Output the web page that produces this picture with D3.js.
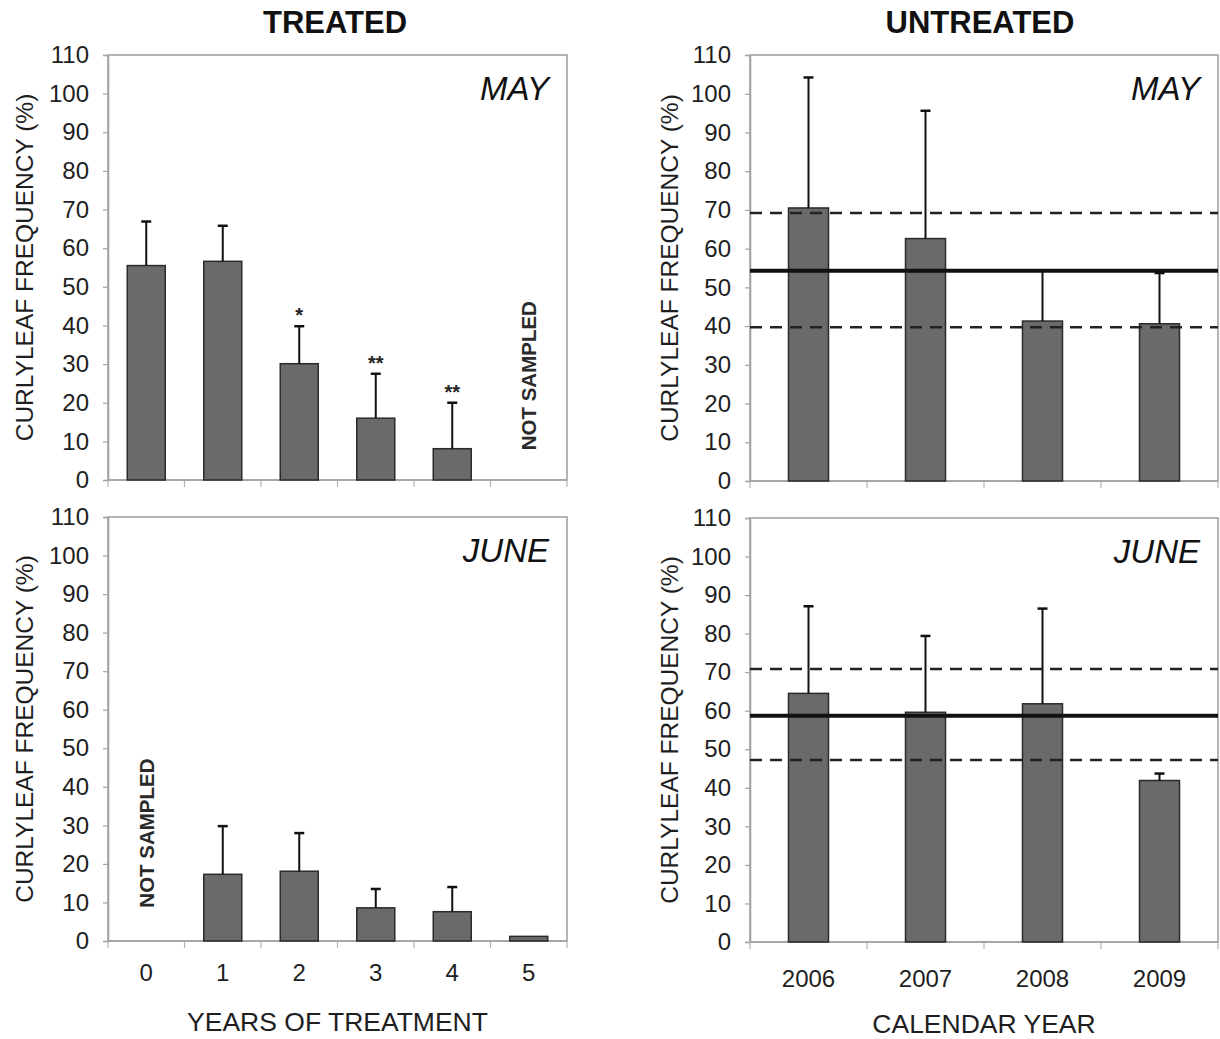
<!DOCTYPE html>
<html><head><meta charset="utf-8">
<script src="https://cdn.jsdelivr.net/npm/d3@7"></script>
<style>body{margin:0;background:#fff}</style></head>
<body><svg id="c" width="1220" height="1039"></svg>
<script>
// ---- data ----
const treatedYears = ["0", "1", "2", "3", "4", "5"];
const treatedMay = [55.5, 56.6, 30.1, 16.0, 8.1, null];
const treatedMayErr = [11.4, 9.2, 9.7, 11.5, 11.9, null];
const treatedMaySig = ["", "", "*", "**", "**", ""];
const treatedJune = [null, 17.3, 18.1, 8.6, 7.6, 1.2];
const treatedJuneErr = [null, 12.5, 9.9, 4.9, 6.4, 0];
const treatedJuneSig = ["", "", "", "", "", ""];

const untreatedYears = ["2006", "2007", "2008", "2009"];
const untreatedMay = [70.5, 62.6, 41.3, 40.6];
const untreatedMayErr = [33.7, 33.0, 13.0, 13.1];
const untreatedMayRef = [54.3, 39.7, 69.2];   // mean, lower, upper
const untreatedJune = [64.5, 59.6, 61.8, 41.9];
const untreatedJuneErr = [22.6, 19.8, 24.7, 1.8];
const untreatedJuneRef = [58.7, 47.2, 70.8];

const yTicks = [0, 10, 20, 30, 40, 50, 60, 70, 80, 90, 100, 110];
const columnTitles = ["TREATED", "UNTREATED"];
const monthLabels = ["MAY", "JUNE"];
const yTitle = "CURLYLEAF FREQUENCY (%)";
const xTitles = ["YEARS OF TREATMENT", "CALENDAR YEAR"];
const notSampled = "NOT SAMPLED";

// ---- drawing ----
const FONT = "'Liberation Sans', Arial, Helvetica, sans-serif";
const svg = d3.select("#c");

function panel(o) {
  const g = svg.append("g");
  const x = d3.scaleBand().domain(o.cats).range([o.x0, o.x1]).padding(0);
  const y = d3.scaleLinear().domain([0, 110]).range([o.y1, o.y0]);
  const bw = o.barW;

  // frame
  g.append("rect").attr("x", o.x0).attr("y", o.y0)
    .attr("width", o.x1 - o.x0).attr("height", o.y1 - o.y0)
    .attr("fill", "none").attr("stroke", "#a3a3a3").attr("stroke-width", 1.6);

  // y axis
  const ya = g.append("g").attr("transform", `translate(${o.x0},0)`)
    .call(d3.axisLeft(y).tickValues(yTicks).tickSize(5).tickPadding(14));
  ya.select(".domain").attr("stroke", "#a3a3a3").attr("stroke-width", 1.6);
  ya.selectAll(".tick line").attr("stroke", "#a3a3a3").attr("stroke-width", 1.2);
  ya.selectAll(".tick text").attr("font-family", FONT).attr("font-size", 24).attr("fill", "#1e1e1e");

  // x axis: ticks at band boundaries
  const bounds = o.cats.map(c => x(c)).concat([o.x1]);
  g.selectAll("line.xt").data(bounds).join("line").attr("class", "xt")
    .attr("x1", d => d).attr("x2", d => d).attr("y1", o.y1).attr("y2", o.y1 + 7)
    .attr("stroke", "#b5b5b5").attr("stroke-width", 1.2);
  g.append("line").attr("x1", o.x0).attr("x2", o.x1).attr("y1", o.y1).attr("y2", o.y1)
    .attr("stroke", "#a3a3a3").attr("stroke-width", 1.6);

  if (o.showX) {
    g.selectAll("text.xl").data(o.cats).join("text").attr("class", "xl")
      .attr("x", d => x(d) + x.bandwidth() / 2).attr("y", o.xLabelY)
      .attr("text-anchor", "middle").attr("font-family", FONT).attr("font-size", 24).attr("fill", "#1e1e1e")
      .text(d => d);
    g.append("text").attr("x", (o.x0 + o.x1) / 2).attr("y", o.xTitleY)
      .attr("text-anchor", "middle").attr("font-family", FONT).attr("font-size", 26.5).attr("fill", "#1e1e1e")
      .text(o.xTitle);
  }

  // y title
  g.append("text").attr("transform", `translate(${o.yTitleX},${(o.y0 + o.y1) / 2}) rotate(-90)`)
    .attr("text-anchor", "middle").attr("dominant-baseline", "central")
    .attr("font-family", FONT).attr("font-size", 24.5).attr("fill", "#1e1e1e").text(yTitle);

  const data = o.cats.map((c, i) => ({ c, v: o.vals[i], e: o.errs[i], s: o.sig ? o.sig[i] : "" }));
  const present = data.filter(d => d.v !== null);

  // bars
  g.selectAll("rect.bar").data(present).join("rect").attr("class", "bar")
    .attr("x", d => x(d.c) + (x.bandwidth() - bw) / 2).attr("width", bw)
    .attr("y", d => y(d.v)).attr("height", d => y(0) - y(d.v))
    .attr("fill", "#6a6a6a").attr("stroke", "#2b2b2b").attr("stroke-width", 1.5);

  // error bars (upper only)
  const eb = present.filter(d => d.e);
  g.selectAll("line.ev").data(eb).join("line").attr("class", "ev")
    .attr("x1", d => x(d.c) + x.bandwidth() / 2).attr("x2", d => x(d.c) + x.bandwidth() / 2)
    .attr("y1", d => y(d.v)).attr("y2", d => y(d.v + d.e))
    .attr("stroke", "#111").attr("stroke-width", 2);
  g.selectAll("line.ec").data(eb).join("line").attr("class", "ec")
    .attr("x1", d => x(d.c) + x.bandwidth() / 2 - 5).attr("x2", d => x(d.c) + x.bandwidth() / 2 + 5)
    .attr("y1", d => y(d.v + d.e)).attr("y2", d => y(d.v + d.e))
    .attr("stroke", "#111").attr("stroke-width", 2.5);

  // significance
  g.selectAll("text.sig").data(present.filter(d => d.s)).join("text").attr("class", "sig")
    .attr("x", d => x(d.c) + x.bandwidth() / 2).attr("y", d => y(d.v + d.e) - 4)
    .attr("text-anchor", "middle").attr("font-family", FONT).attr("font-weight", "bold")
    .attr("font-size", 20).attr("fill", "#222").text(d => d.s);

  // not sampled
  data.filter(d => d.v === null).forEach(d => {
    g.append("text")
      .attr("transform", `translate(${x(d.c) + x.bandwidth() / 2},${y(o.nsY)}) rotate(-90)`)
      .attr("text-anchor", "middle").attr("dominant-baseline", "central")
      .attr("font-family", FONT).attr("font-weight", "bold").attr("font-size", 20.5).attr("fill", "#2a2a2a")
      .text(notSampled);
  });

  // reference lines
  if (o.ref) {
    const [m, lo, hi] = o.ref;
    [lo, hi].forEach(v => {
      g.append("line").attr("x1", o.x0).attr("x2", o.x1).attr("y1", y(v)).attr("y2", y(v))
        .attr("stroke", "#222").attr("stroke-width", 2.5).attr("stroke-dasharray", "12,8");
    });
    g.append("line").attr("x1", o.x0).attr("x2", o.x1).attr("y1", y(m)).attr("y2", y(m))
      .attr("stroke", "#111").attr("stroke-width", 4);
  }

  // month label
  g.append("text").attr("x", o.x1 - 18).attr("y", o.monthY)
    .attr("text-anchor", "end").attr("font-family", FONT).attr("font-style", "italic")
    .attr("font-size", 33).attr("fill", "#111").text(o.month);
}

// column titles
svg.append("text").attr("x", 335).attr("y", 33).attr("text-anchor", "middle")
  .attr("font-family", FONT).attr("font-weight", "bold").attr("font-size", 31).attr("fill", "#111").text(columnTitles[0]);
svg.append("text").attr("x", 980).attr("y", 33).attr("text-anchor", "middle")
  .attr("font-family", FONT).attr("font-weight", "bold").attr("font-size", 31).attr("fill", "#111").text(columnTitles[1]);

panel({ x0: 108, x1: 567, y0: 55, y1: 480, cats: treatedYears, vals: treatedMay, errs: treatedMayErr,
  sig: treatedMaySig, barW: 38, showX: false, yTitleX: 24, nsY: 27, month: monthLabels[0], monthY: 100 });
panel({ x0: 750, x1: 1218, y0: 55, y1: 481, cats: untreatedYears, vals: untreatedMay, errs: untreatedMayErr,
  barW: 40, showX: false, yTitleX: 669, ref: untreatedMayRef, month: monthLabels[0], monthY: 100 });
panel({ x0: 108, x1: 567, y0: 517, y1: 941, cats: treatedYears, vals: treatedJune, errs: treatedJuneErr,
  sig: treatedJuneSig, barW: 38, showX: true, xLabelY: 981, xTitle: xTitles[0], xTitleY: 1031,
  yTitleX: 24, nsY: 28, month: monthLabels[1], monthY: 562 });
panel({ x0: 750, x1: 1218, y0: 518, y1: 942, cats: untreatedYears, vals: untreatedJune, errs: untreatedJuneErr,
  barW: 40, showX: true, xLabelY: 987, xTitle: xTitles[1], xTitleY: 1033,
  yTitleX: 669, ref: untreatedJuneRef, month: monthLabels[1], monthY: 563 });
</script>
</body></html>
